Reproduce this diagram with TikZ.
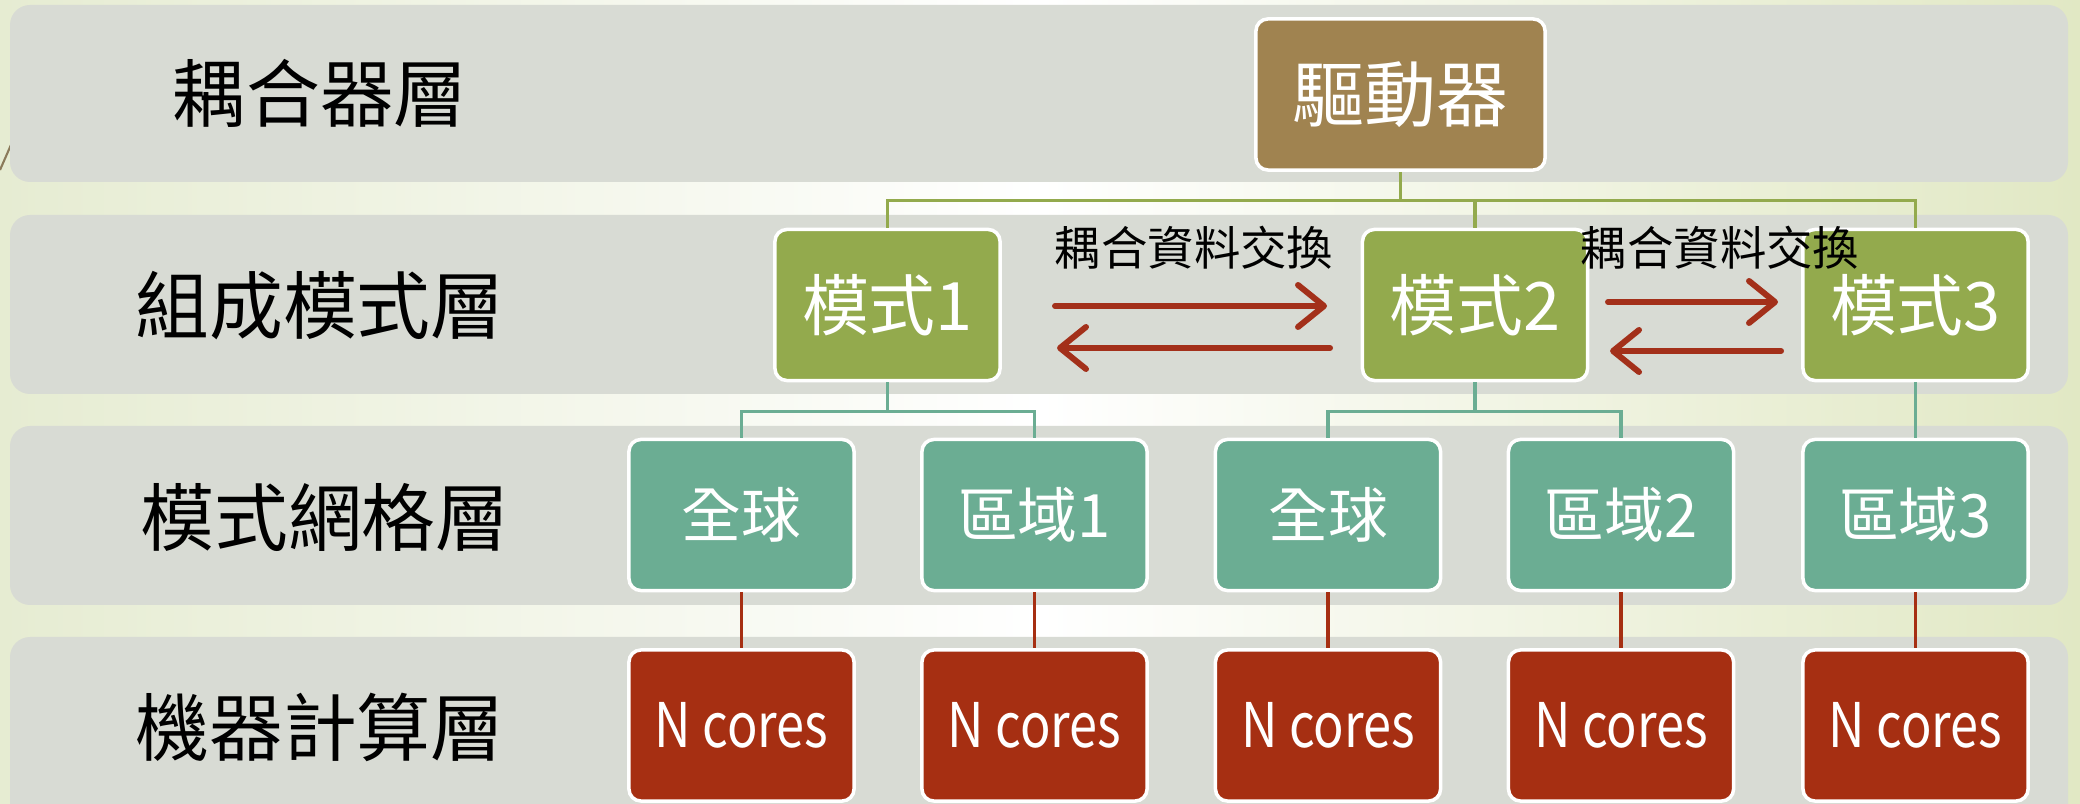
\documentclass[tikz,border=0pt]{standalone}
\usepackage{fontspec}
\setmainfont{Noto Sans CJK TC}
\usetikzlibrary{arrows.meta}
\definecolor{bgL}{HTML}{E6ECD2}
\definecolor{bgR}{HTML}{E1E8C4}
\definecolor{bandc}{HTML}{D8DBD4}
\definecolor{drvc}{HTML}{A08350}
\definecolor{modc}{HTML}{93AA4D}
\definecolor{gridc}{HTML}{6BAD93}
\definecolor{corec}{HTML}{A62F12}
\definecolor{arrc}{HTML}{A3301A}
\definecolor{decoc}{HTML}{8B7B5A}
\begin{document}
\begin{tikzpicture}[x=0.01cm,y=-0.01cm,
  band/.style={fill=bandc, rounded corners=0.2cm},
  layer/.style={font=\fontsize{21pt}{24pt}\selectfont, text=black, inner sep=0},
  box/.style={rounded corners=0.12cm, draw=white, line width=1pt, minimum width=2.25cm, minimum height=1.51cm, text=white, inner sep=0},
  drvbox/.style={box, fill=drvc, minimum width=2.89cm, font=\fontsize{20.5pt}{24pt}\selectfont},
  modbox/.style={box, fill=modc, font=\fontsize{19pt}{22pt}\selectfont},
  gridbox/.style={box, fill=gridc, font=\fontsize{17pt}{20pt}\selectfont},
  corebox/.style={box, fill=corec, font=\fontsize{17.5pt}{20pt}\selectfont},
  modlink/.style={draw=modc, line width=0.9pt},
  gridlink/.style={draw=gridc, line width=0.9pt},
  corelink/.style={draw=corec, line width=0.9pt},
  xarrow/.style={draw=arrc, line width=1.7pt, line cap=round, -{Straight Barb[length=0.26cm,width=0.42cm,round]}},
  xlabel/.style={font=\fontsize{13.2pt}{16pt}\selectfont, text=black, inner sep=0}
]
\useasboundingbox (0,0) rectangle (2080,804);
\clip (0,0) rectangle (2080,804);
\shade[left color=bgL, right color=bgR, middle color=white] (0,0) rectangle (2080,804);
\draw[decoc, line width=0.6pt] (0,170) -- (14,138);

% layer bands
\path[band] (10,5) rectangle (2068,182);
\path[band] (10,215) rectangle (2068,394);
\path[band] (10,426) rectangle (2068,605);
\path[band] (10,637) rectangle (2068,840);

% layer labels
\node[layer] (l1) at (320,93) {耦合器層};
\node[layer] (l2) at (320,306) {組成模式層};
\node[layer] (l3) at (325,517) {模式網格層};
\node[layer] (l4) at (320,727) {機器計算層};

% nodes
\node[drvbox] (drv) at (1400.5,94.5) {驅動器};
\node[modbox] (m1) at (887.5,305) {模式1};
\node[modbox] (m2) at (1475,305) {模式2};
\node[modbox] (m3) at (1915.5,305) {模式3};

\node[gridbox] (g1) at (741.5,515) {全球};
\node[gridbox] (g2) at (1034.5,515) {區域1};
\node[gridbox] (g3) at (1328,515) {全球};
\node[gridbox] (g4) at (1621,515) {區域2};
\node[gridbox] (g5) at (1915.5,515) {區域3};

\node[corebox] (c1) at (741.5,725.5) {\scalebox{0.82}[1]{N cores}};
\node[corebox] (c2) at (1034.5,725.5) {\scalebox{0.82}[1]{N cores}};
\node[corebox] (c3) at (1328,725.5) {\scalebox{0.82}[1]{N cores}};
\node[corebox] (c4) at (1621,725.5) {\scalebox{0.82}[1]{N cores}};
\node[corebox] (c5) at (1915.5,725.5) {\scalebox{0.82}[1]{N cores}};

% tree connectors
\draw[modlink] (drv.south) -- ++(0,29) coordinate (dj);
\draw[modlink] (m1.north) |- (dj) -| (m3.north);
\draw[modlink] (dj) -| (m2.north);
\draw[gridlink] (m1.south) -- ++(0,29) coordinate (j1);
\draw[gridlink] (g1.north) |- (j1) -| (g2.north);
\draw[gridlink] (m2.south) -- ++(0,29) coordinate (j2);
\draw[gridlink] (g3.north) |- (j2) -| (g4.north);
\draw[gridlink] (m3.south) -- (g5.north);
\foreach \i in {1,...,5} {\draw[corelink] (g\i.south) -- (c\i.north);}

% exchange arrows
\coordinate (a1s) at (1055,306);
\coordinate (a1e) at (1327,306);
\coordinate (b1s) at (1330,348);
\coordinate (b1e) at (1057,348);
\coordinate (a2s) at (1608,302);
\coordinate (a2e) at (1778,302);
\coordinate (b2s) at (1781,351);
\coordinate (b2e) at (1610,351);
\draw[xarrow] (a1s) -- (a1e);
\draw[xarrow] (b1s) -- (b1e);
\draw[xarrow] (a2s) -- (a2e);
\draw[xarrow] (b2s) -- (b2e);
\node[xlabel] (x1) at (1194,248) {耦合資料交換};
\node[xlabel] (x2) at (1720,248) {耦合資料交換};
\end{tikzpicture}
\end{document}
